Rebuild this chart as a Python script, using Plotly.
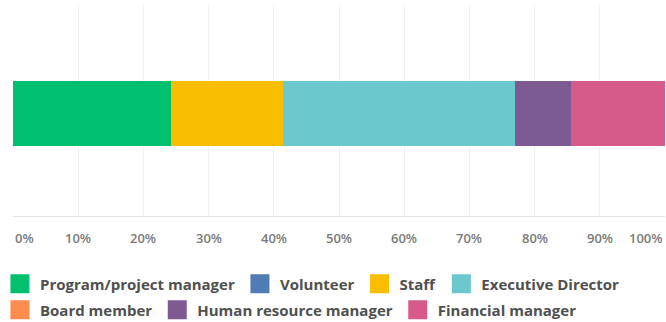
import plotly.graph_objects as go

# Share of respondents by role (percent of total)
roles = [
    "Program/project manager",
    "Volunteer",
    "Staff",
    "Executive Director",
    "Board member",
    "Human resource manager",
    "Financial manager",
]
shares = [24.2, 0.0, 17.2, 35.6, 0.0, 8.6, 14.4]
colors = ["#00BF6F", "#507CB6", "#F9BE00", "#6BC8CD", "#FF8B4F", "#7D5A92", "#D65A8A"]
# which legend row each role appears in
legend_rows = ["legend", "legend", "legend", "legend", "legend2", "legend2", "legend2"]

tick_values = [0, 10, 20, 30, 40, 50, 60, 70, 80, 90, 100]
tick_labels = ["0%", "10%", "20%", "30%", "40%", "50%", "60%", "70%", "80%", "90%", "100%"]

FONT = "Open Sans"

fig = go.Figure()

for role, share, color, leg in zip(roles, shares, colors, legend_rows):
    # the stacked segment
    fig.add_trace(go.Bar(
        x=[share], y=[0], orientation="h", name=role,
        marker=dict(color=color, line=dict(width=0)),
        width=0.31, legendgroup=role, showlegend=False,
        hovertemplate=role + ": %{x}%<extra></extra>",
    ))
    # larger square swatch for the legend entry
    fig.add_trace(go.Scatter(
        x=[None], y=[None], mode="markers", name=role, legendgroup=role,
        legend=leg,
        marker=dict(symbol="square", size=16, color=color,
                    line=dict(color=color, width=3)),
        hoverinfo="skip",
    ))

# percentage labels under the axis; the end labels are kept inside the frame
for v, lab in zip(tick_values, tick_labels):
    anchor = "left" if v == tick_values[0] else ("right" if v == tick_values[-1] else "center")
    fig.add_annotation(
        x=v, xref="x", y=-0.105, yref="paper", text=lab, showarrow=False,
        xanchor=anchor, yanchor="middle",
        font=dict(family=FONT, size=13, color="#7a7a7a", weight=600),
    )

legend_style = dict(
    orientation="h", x=-0.02, xanchor="left", yanchor="middle",
    font=dict(family=FONT, size=15, color="#505050", weight=700),
    itemclick=False, itemdoubleclick=False, tracegroupgap=0,
    bgcolor="rgba(0,0,0,0)",
)

fig.update_layout(
    width=666, height=322,
    margin=dict(l=13, r=1, t=5, b=106, autoexpand=False),
    paper_bgcolor="white", plot_bgcolor="white",
    barmode="stack", bargap=0,
    showlegend=True,
    legend=dict(legend_style, y=-0.322),
    legend2=dict(legend_style, y=-0.445),
    font=dict(family=FONT),
)

fig.update_xaxes(
    range=[0, 100], tickvals=tick_values, showticklabels=False,
    showgrid=True, gridcolor="#f1f1f1", gridwidth=1,
    zeroline=False, showline=True, linecolor="#e4e4e4", linewidth=1,
    fixedrange=True,
)
fig.update_yaxes(
    range=[-0.486, 0.514], showticklabels=False, showgrid=False,
    zeroline=False, showline=False, fixedrange=True,
)

fig.write_html("out.html")
